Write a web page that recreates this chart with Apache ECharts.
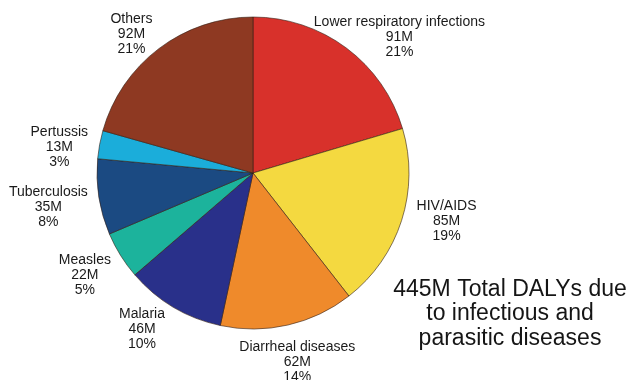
<!DOCTYPE html>
<html>
<head>
<meta charset="utf-8">
<script src="https://cdn.jsdelivr.net/npm/echarts@6/dist/echarts.min.js"></script>
<style>
html,body{margin:0;padding:0;background:#fff;}
#chart{width:630px;height:380px;}
</style>
</head>
<body>
<div id="chart"></div>
<script>
// Data (clockwise from 12 o'clock)
const categories = ['Lower respiratory infections', 'HIV/AIDS', 'Diarrheal diseases', 'Malaria', 'Measles', 'Tuberculosis', 'Pertussis', 'Others'];
const dalys = [91, 85, 62, 46, 22, 35, 13, 92];          // millions of DALYs
const percentLabels = ['21%', '19%', '14%', '10%', '5%', '8%', '3%', '21%'];
const totalText = ['445M Total DALYs due', 'to infectious and', 'parasitic diseases'];

// Styling / label layout (not data)
const sliceColors = ['#d8312b', '#f4d940', '#ef8a2b', '#29308a', '#1cb39c', '#1b4a82', '#1badda', '#8e3922'];
const labelNudge = [[28, 23], [5, -12], [0, -4], [-10, -14], [0, -2], [-9, 4], [1, 10], [-2, 19]];

const FONT = '"Liberation Sans", Arial, Helvetica, sans-serif';
const chart = echarts.init(document.getElementById('chart'), null, {renderer: 'canvas'});

const pieData = categories.map((name, i) => ({
  name: name,
  value: dalys[i],
  itemStyle: {color: sliceColors[i]}
}));
const labelData = categories.map((name, i) => ({
  name: name,
  value: dalys[i],
  label: {offset: labelNudge[i]}
}));

chart.setOption({
  backgroundColor: '#ffffff',
  animation: false,
  title: {
    text: totalText.join('\n'),
    left: 510,
    top: 277,
    textAlign: 'center',
    padding: 0,
    textStyle: {fontFamily: FONT, fontSize: 23, fontWeight: 'normal', lineHeight: 24.5, color: '#151515'}
  },
  series: [
    {
      type: 'pie',
      center: [253, 173],
      radius: [0, 156],
      startAngle: 90,
      clockwise: true,
      silent: true,
      label: {show: false},
      labelLine: {show: false},
      itemStyle: {borderColor: 'rgba(50,30,20,0.75)', borderWidth: 0.8},
      data: pieData
    },
    {
      type: 'pie',
      center: [253, 173],
      radius: [180, 210],
      startAngle: 90,
      clockwise: true,
      silent: true,
      itemStyle: {color: 'rgba(0,0,0,0)', borderWidth: 0},
      labelLine: {show: false},
      label: {
        show: true,
        position: 'inside',
        rotate: 0,
        color: '#1a1a1a',
        fontFamily: FONT,
        fontSize: 14,
        lineHeight: 15,
        align: 'center',
        formatter: p => p.name + '\n' + dalys[p.dataIndex] + 'M\n' + percentLabels[p.dataIndex]
      },
      data: labelData
    }
  ]
});
</script>
</body>
</html>
